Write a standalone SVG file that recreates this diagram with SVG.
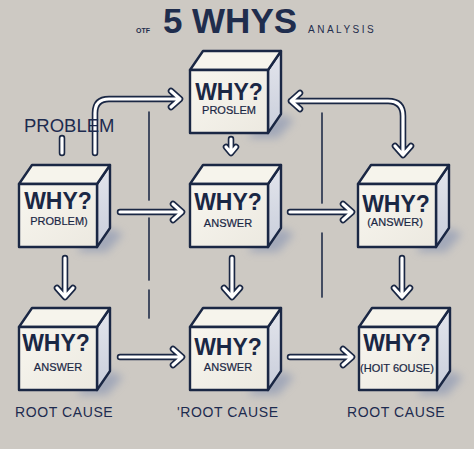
<svg xmlns="http://www.w3.org/2000/svg" width="474" height="449" viewBox="0 0 474 449">
<defs>
<style>
.bg{fill:#cdc9c3}
.front{fill:url(#gFront);stroke:#1a2744;stroke-width:2.4;stroke-linejoin:round}
.top{fill:#f6f4ec;stroke:#1a2744;stroke-width:2.4;stroke-linejoin:round}
.side{fill:url(#gSide);stroke:#1a2744;stroke-width:2.4;stroke-linejoin:round}
.shadow{fill:#7f8db0;opacity:0.55;filter:url(#blur)}
.why{font-family:"Liberation Sans",Arial,sans-serif;font-weight:bold;font-size:23px;fill:#1a2744;text-anchor:middle}
.sub{font-family:"Liberation Sans",Arial,sans-serif;font-size:11px;fill:#1a2744;text-anchor:middle;stroke:#1a2744;stroke-width:0.2}
.lbl{font-family:"Liberation Sans",Arial,sans-serif;font-size:14px;fill:#1d2b4f;letter-spacing:0.6px}
.ao{fill:none;stroke:#1a2744;stroke-width:6.5;stroke-linecap:round;stroke-linejoin:round}
.ai{fill:none;stroke:#ffffff;stroke-width:3.2;stroke-linecap:round;stroke-linejoin:round}
.thin{fill:none;stroke:#1a2744;stroke-width:1.7;stroke-linecap:round;opacity:0.9}
</style>
<linearGradient id="gFront" x1="0" y1="0" x2="1" y2="1">
<stop offset="0" stop-color="#f8f6ef"/><stop offset="1" stop-color="#ece9e0"/>
</linearGradient>
<linearGradient id="gSide" x1="0" y1="0" x2="0" y2="1">
<stop offset="0" stop-color="#e3e5ec"/><stop offset="1" stop-color="#c9cedb"/>
</linearGradient>
<filter id="blur" x="-50%" y="-50%" width="200%" height="200%"><feGaussianBlur stdDeviation="4"/></filter>
<g id="cube">
<polygon class="shadow" points="60,62 91,44 104,50 88,68 60,68"/>
<polygon class="side" points="78,0 91,-19 91,44 78,63"/>
<polygon class="top" points="0,0 13,-19 91,-19 78,0"/>
<rect class="front" x="0" y="0" width="78" height="63"/>
</g>
</defs>
<rect class="bg" x="0" y="0" width="474" height="449"/>

<g id="title">
<text x="143" y="33" font-family="'Liberation Sans',Arial,sans-serif" font-size="7" font-weight="bold" fill="#1f2d4d" text-anchor="middle">OTF</text>
<text x="230" y="33" font-family="'Liberation Sans',Arial,sans-serif" font-size="35" font-weight="bold" fill="#1f2d4d" text-anchor="middle">5 WHYS</text>
<text x="308" y="33" font-family="'Liberation Sans',Arial,sans-serif" font-size="10" fill="#1f2d4d" letter-spacing="2.5">ANALYSIS</text>
</g>

<g id="connectors">
<path class="thin" d="M149,112 V200 M149,218 V280 M149,290 V318"/>
<path class="thin" d="M322,113 V203 M322,233 V297"/>
<path class="ao" d="M62,138 V153 M95,153 V113 Q95,99 109,99 H179 M171,91 L180,99 L171,107"/>
<path class="ai" d="M62,138 V153 M95,153 V113 Q95,99 109,99 H179 M171,91 L180,99 L171,107"/>
<path class="ao" d="M291,101 H388 Q403,101 403,116 V154 M300,93 L291,101 L300,109 M395,146 L403,155 L411,146"/>
<path class="ai" d="M291,101 H388 Q403,101 403,116 V154 M300,93 L291,101 L300,109 M395,146 L403,155 L411,146"/>
<path class="ao" d="M231,139 V152 M226,147 L231,153 L236,147"/>
<path class="ai" d="M231,139 V152 M226,147 L231,153 L236,147"/>
<path class="ao" d="M120,212 H181 M173,204 L182,212 L173,220 M290,212 H351 M343,204 L352,212 L343,220 M120,357 H181 M173,349 L182,357 L173,365 M290,357 H351 M343,349 L352,357 L343,365"/>
<path class="ai" d="M120,212 H181 M173,204 L182,212 L173,220 M290,212 H351 M343,204 L352,212 L343,220 M120,357 H181 M173,349 L182,357 L173,365 M290,357 H351 M343,349 L352,357 L343,365"/>
<path class="ao" d="M65,258 V296 M57,288 L65,297 L73,288 M232,258 V296 M224,288 L232,297 L240,288 M402,258 V296 M394,288 L402,297 L410,288"/>
<path class="ai" d="M65,258 V296 M57,288 L65,297 L73,288 M232,258 V296 M224,288 L232,297 L240,288 M402,258 V296 M394,288 L402,297 L410,288"/>
</g>

<g id="problem-label">
<text x="24" y="132" font-family="'Liberation Sans',Arial,sans-serif" font-size="18.5" fill="#1d2b4f">PROBLEM</text>
</g>

<g id="node-top" transform="translate(190,70)">
<use href="#cube"/>
<text class="why" x="39" y="30">WHY?</text>
<text class="sub" x="39" y="44" font-size="10">PROSLEM</text>
</g>
<g id="node-mid-left" transform="translate(19,184)">
<use href="#cube"/>
<text class="why" x="39" y="25">WHY?</text>
<text class="sub" x="40" y="41">PROBLEM)</text>
</g>
<g id="node-mid-center" transform="translate(190,184)">
<use href="#cube"/>
<text class="why" x="38" y="26">WHY?</text>
<text class="sub" x="38" y="43">ANSWER</text>
</g>
<g id="node-mid-right" transform="translate(358,184)">
<use href="#cube"/>
<text class="why" x="38" y="28">WHY?</text>
<text class="sub" x="37" y="42">(ANSWER)</text>
</g>
<g id="node-bot-left" transform="translate(19,327)">
<use href="#cube"/>
<text class="why" x="37" y="24">WHY?</text>
<text class="sub" x="39" y="44">ANSWER</text>
</g>
<g id="node-bot-center" transform="translate(190,327)">
<use href="#cube"/>
<text class="why" x="38" y="28">WHY?</text>
<text class="sub" x="38" y="44">ANSWER</text>
</g>
<g id="node-bot-right" transform="translate(359,327)">
<use href="#cube"/>
<text class="why" x="38" y="24">WHY?</text>
<text class="sub" x="38" y="45" font-size="9.5">(HOIT 6OUSE)</text>
</g>

<g id="root-labels">
<text class="lbl" x="15" y="417">ROOT CAUSE</text>
<text class="lbl" x="177" y="417">'ROOT CAUSE</text>
<text class="lbl" x="347" y="417">ROOT CAUSE</text>
</g>
</svg>
